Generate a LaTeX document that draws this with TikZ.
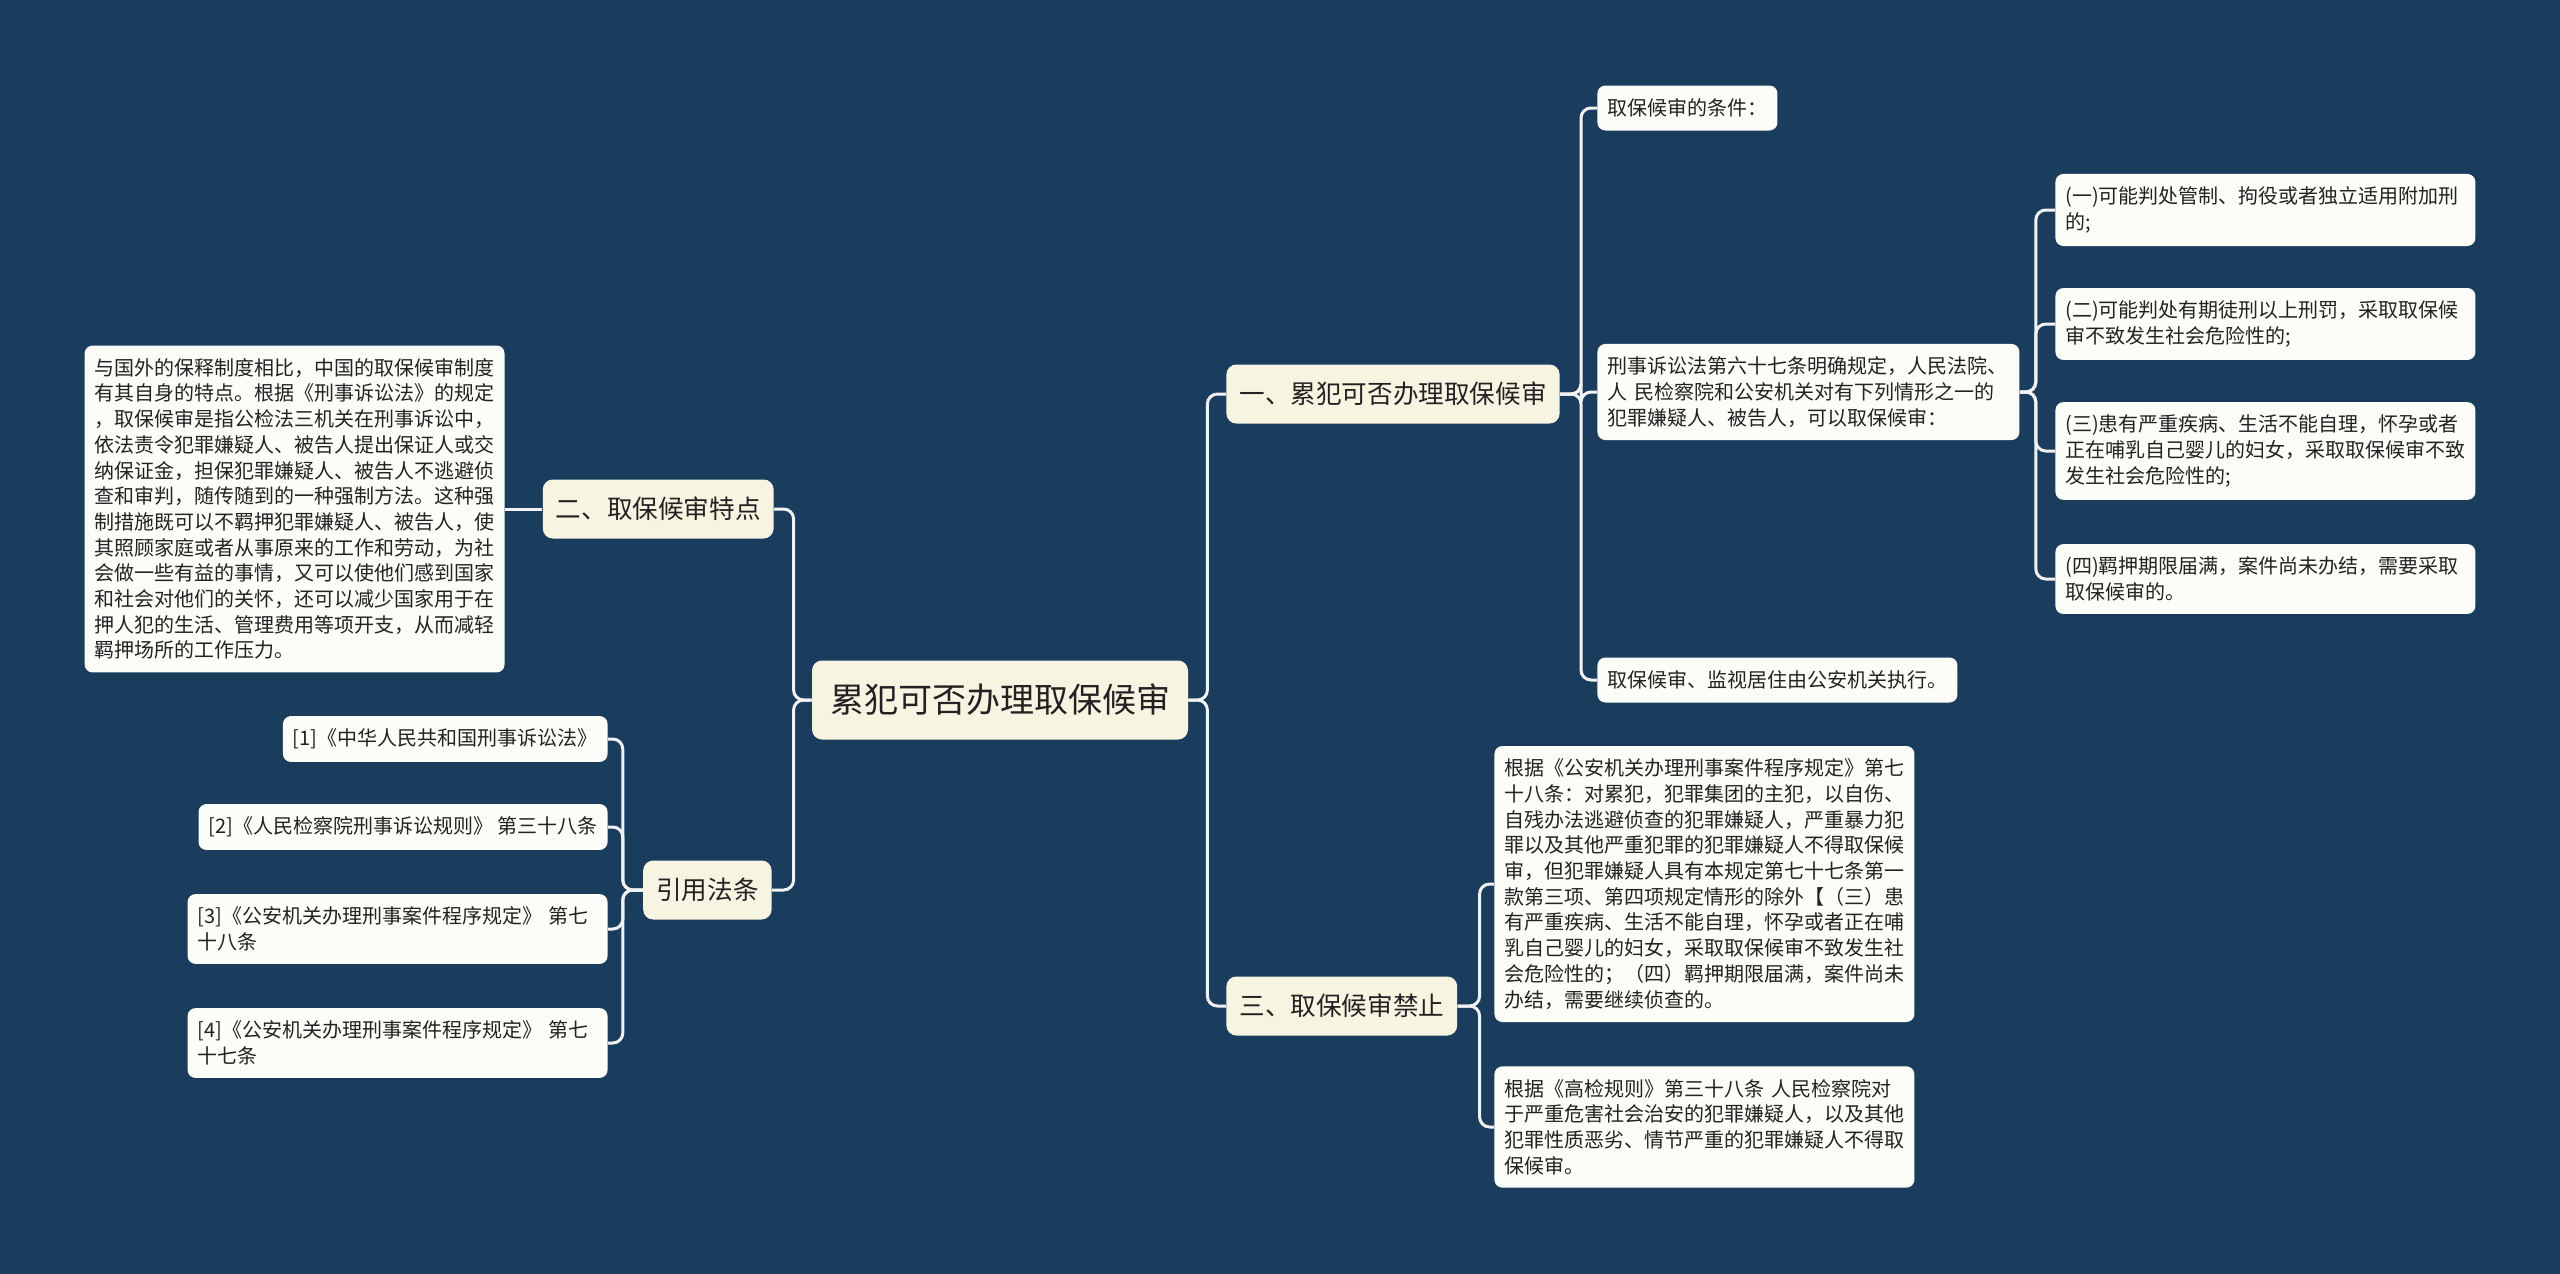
\documentclass[tikz,border=0pt]{standalone}
\usepackage{fontspec}
\usepackage{tikz}
\usepackage{xcolor}
\newfontfamily\cjk{Noto Sans CJK SC}
\definecolor{bgnavy}{RGB}{26,61,94}
\definecolor{topiccream}{RGB}{248,244,226}
\definecolor{leafwhite}{RGB}{252,252,248}
\definecolor{linkwhite}{RGB}{242,242,242}
\definecolor{inkdark}{RGB}{34,34,34}

\begin{document}
\begin{tikzpicture}[
    x=0.5pt,y=-0.5pt,
    mainbox/.style={rounded corners=5pt,fill=topiccream,text=inkdark,minimum width=188pt,minimum height=39.5pt,font=\cjk\fontsize{17}{20}\selectfont},
    topic/.style={rounded corners=5pt,fill=topiccream,text=inkdark,inner xsep=6.5pt,minimum height=29.5pt,font=\cjk\fontsize{12.8}{15}\selectfont},
    leafbox/.style={rounded corners=4pt,fill=leafwhite,text=inkdark,inner xsep=5pt,inner ysep=6.4pt,minimum height=22.5pt,align=left,font=\cjk\fontsize{10}{12.85}\selectfont},
    conn/.style={draw=linkwhite,line width=1.5pt,rounded corners=5pt}
]
    \fill[bgnavy] (0,0) rectangle (2560,1274);
    % Centre
    \node[mainbox] (root) at (1000,700) {累犯可否办理取保候审};
    % Right branches
    \node[topic,anchor=west] (t1) at (1226,394) {一、累犯可否办理取保候审};
    \node[topic,anchor=west] (t3) at (1226,1006) {三、取保候审禁止};
    % Left branches
    \node[topic,anchor=east] (t2) at (774,509) {二、取保候审特点};
    \node[topic,anchor=east] (tref) at (772,890) {引用法条};
    % Conditions
    \node[leafbox,anchor=west] (cond) at (1597,108) {取保候审的条件：};
    \node[leafbox,anchor=west,text width=201pt] (law67) at (1597,392) {
        刑事诉讼法第六十七条明确规定，人民法院、\\
        人~民检察院和公安机关对有下列情形之一的\\
        犯罪嫌疑人、被告人，可以取保候审：
    };
    \node[leafbox,anchor=west] (exec) at (1597,680) {取保候审、监视居住由公安机关执行。};
    \node[leafbox,anchor=west,text width=200pt] (c1) at (2055,210) {
        (一)可能判处管制、拘役或者独立适用附加刑\\
        的;
    };
    \node[leafbox,anchor=west,text width=200pt] (c2) at (2055,324) {
        (二)可能判处有期徒刑以上刑罚，采取取保候\\
        审不致发生社会危险性的;
    };
    \node[leafbox,anchor=west,text width=200pt] (c3) at (2055,451) {
        (三)患有严重疾病、生活不能自理，怀孕或者\\
        正在哺乳自己婴儿的妇女，采取取保候审不致\\
        发生社会危险性的;
    };
    \node[leafbox,anchor=west,text width=200pt] (c4) at (2055,579) {
        (四)羁押期限届满，案件尚未办结，需要采取\\
        取保候审的。
    };
    % Prohibitions
    \node[leafbox,anchor=west,text width=200pt] (ban1) at (1494,884) {
        根据《公安机关办理刑事案件程序规定》第七\\
        十八条：对累犯，犯罪集团的主犯，以自伤、\\
        自残办法逃避侦查的犯罪嫌疑人，严重暴力犯\\
        罪以及其他严重犯罪的犯罪嫌疑人不得取保候\\
        审，但犯罪嫌疑人具有本规定第七十七条第一\\
        款第三项、第四项规定情形的除外【（三）患\\
        有严重疾病、生活不能自理，怀孕或者正在哺\\
        乳自己婴儿的妇女，采取取保候审不致发生社\\
        会危险性的；（四）羁押期限届满，案件尚未\\
        办结，需要继续侦查的。
    };
    \node[leafbox,anchor=west,text width=200pt] (ban2) at (1494,1127) {
        根据《高检规则》第三十八条~人民检察院对\\
        于严重危害社会治安的犯罪嫌疑人，以及其他\\
        犯罪性质恶劣、情节严重的犯罪嫌疑人不得取\\
        保候审。
    };
    % Features
    \node[leafbox,anchor=east,text width=200pt] (chara) at (505,509) {
        与国外的保释制度相比，中国的取保候审制度\\
        有其自身的特点。根据《刑事诉讼法》的规定\\
        ，取保候审是指公检法三机关在刑事诉讼中，\\
        依法责令犯罪嫌疑人、被告人提出保证人或交\\
        纳保证金，担保犯罪嫌疑人、被告人不逃避侦\\
        查和审判，随传随到的一种强制方法。这种强\\
        制措施既可以不羁押犯罪嫌疑人、被告人，使\\
        其照顾家庭或者从事原来的工作和劳动，为社\\
        会做一些有益的事情，又可以使他们感到国家\\
        和社会对他们的关怀，还可以减少国家用于在\\
        押人犯的生活、管理费用等项开支，从而减轻\\
        羁押场所的工作压力。
    };
    % References
    \node[leafbox,anchor=east] (ref1) at (608,739) {[1]《中华人民共和国刑事诉讼法》};
    \node[leafbox,anchor=east] (ref2) at (608,827) {[2]《人民检察院刑事诉讼规则》~第三十八条};
    \node[leafbox,anchor=east,text width=200pt] (ref3) at (608,929) {
        [3]《公安机关办理刑事案件程序规定》~第七\\
        十八条
    };
    \node[leafbox,anchor=east,text width=200pt] (ref4) at (608,1043) {
        [4]《公安机关办理刑事案件程序规定》~第七\\
        十七条
    };
    % Connectors
    \draw[conn] (root.east) -- ++(19,0) |- (t1.west);
    \draw[conn] (root.east) -- ++(19,0) |- (t3.west);
    \draw[conn] (root.west) -- ++(-18,0) |- (t2.east);
    \draw[conn] (root.west) -- ++(-18,0) |- (tref.east);
    \draw[conn] (t1.east) -- ++(21,0) |- (cond.west);
    \draw[conn] (t1.east) -- ++(21,0) |- (law67.west);
    \draw[conn] (t1.east) -- ++(21,0) |- (exec.west);
    \draw[conn] (law67.east) -- ++(16,0) |- (c1.west);
    \draw[conn] (law67.east) -- ++(16,0) |- (c2.west);
    \draw[conn] (law67.east) -- ++(16,0) |- (c3.west);
    \draw[conn] (law67.east) -- ++(16,0) |- (c4.west);
    \draw[conn] (t3.east) -- ++(22,0) |- (ban1.west);
    \draw[conn] (t3.east) -- ++(22,0) |- (ban2.west);
    \draw[conn] (t2.west) -- (chara.east);
    \draw[conn] (tref.west) -- ++(-20,0) |- (ref1.east);
    \draw[conn] (tref.west) -- ++(-20,0) |- (ref2.east);
    \draw[conn] (tref.west) -- ++(-20,0) |- (ref3.east);
    \draw[conn] (tref.west) -- ++(-20,0) |- (ref4.east);
\end{tikzpicture}
\end{document}
